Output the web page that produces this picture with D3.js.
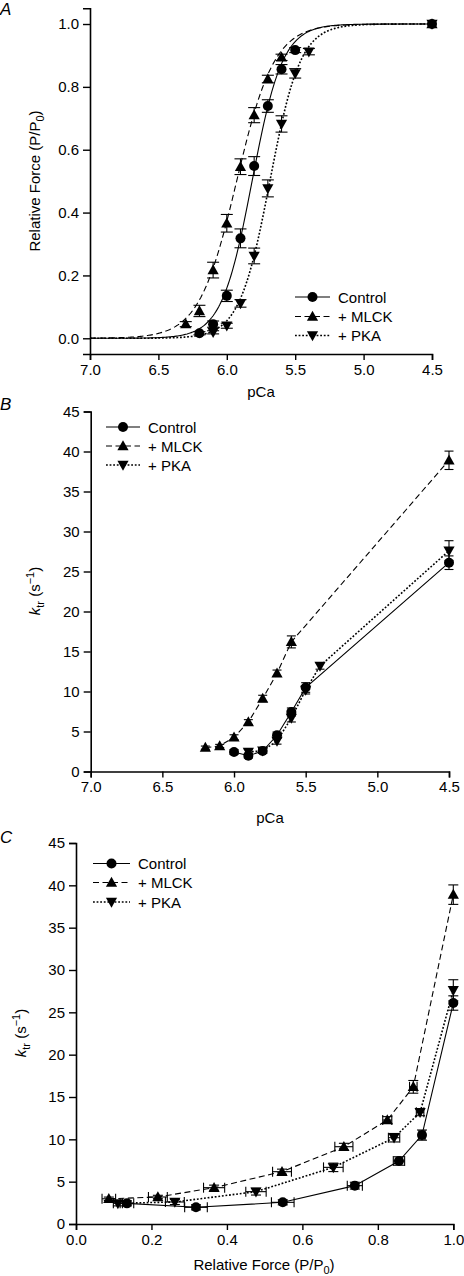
<!DOCTYPE html>
<html><head><meta charset="utf-8">
<script src="https://cdn.jsdelivr.net/npm/d3@7"></script>
<style>
html,body{margin:0;padding:0;background:#fff;}
svg{display:block;font-family:"Liberation Sans",Arial,sans-serif;}
</style></head>
<body>
<svg id="chart" width="464" height="1276"></svg>
<script>
// ---------- DATA ----------
const seriesNames = ["Control", "+ MLCK", "+ PKA"];

// Panel A: relative force vs pCa
const pcaA_control = [6.2, 6.1, 6.0, 5.9, 5.8, 5.7, 5.6, 5.5, 4.5];
const forceA_control = [0.016, 0.045, 0.135, 0.318, 0.548, 0.739, 0.856, 0.917, 1.0];
const forceErrA_control = [0.005, 0.01, 0.018, 0.03, 0.03, 0.02, 0.015, 0.008, 0];

const pcaA_mlck = [6.3, 6.2, 6.1, 6.0, 5.9, 5.8, 5.7, 5.6, 4.5];
const forceA_mlck = [0.045, 0.087, 0.217, 0.366, 0.546, 0.71, 0.825, 0.894, 1.0];
const forceErrA_mlck = [0.008, 0.018, 0.025, 0.028, 0.025, 0.024, 0.012, 0.01, 0];

const pcaA_pka = [6.1, 6.0, 5.9, 5.8, 5.7, 5.6, 5.5, 5.4, 4.5];
const forceA_pka = [0.019, 0.04, 0.111, 0.262, 0.477, 0.682, 0.843, 0.912, 1.0];
const forceErrA_pka = [0.005, 0.008, 0.012, 0.025, 0.027, 0.026, 0.015, 0.01, 0];

// Hill fit parameters [Control, MLCK, PKA]
const fitPCa50 = [5.815, 5.928, 5.685];
const fitNH = [3.9, 3.15, 3.9];

// Panel B: ktr vs pCa
const pcaB_control = [6.0, 5.9, 5.8, 5.7, 5.6, 5.5, 4.5];
const ktrB_control = [2.44, 1.97, 2.56, 4.53, 7.44, 10.5, 26.1];
const ktrErrB_control = [0.3, 0.3, 0.3, 0.4, 0.5, 0.6, 0.85];

const pcaB_mlck = [6.2, 6.1, 6.0, 5.9, 5.8, 5.7, 5.6, 4.5];
const ktrB_mlck = [2.98, 3.19, 4.29, 6.18, 9.13, 12.28, 16.2, 38.9];
const ktrErrB_mlck = [0.2, 0.2, 0.3, 0.3, 0.4, 0.4, 0.75, 1.15];

const pcaB_pka = [5.9, 5.8, 5.7, 5.6, 5.5, 5.4, 4.5];
const ktrB_pka = [2.44, 2.6, 3.82, 6.69, 10.19, 13.19, 27.6];
const ktrErrB_pka = [0.3, 0.3, 0.4, 0.5, 0.5, 0.4, 1.25];

// Tick values
const pcaTicks = [7.0, 6.5, 6.0, 5.5, 5.0, 4.5];
const forceTicks = [0.0, 0.2, 0.4, 0.6, 0.8, 1.0];
const ktrTicks = [0, 5, 10, 15, 20, 25, 30, 35, 40, 45];
const relForceTicks = [0.0, 0.2, 0.4, 0.6, 0.8, 1.0];

// ---------- BUILD ----------
const svg = d3.select("#chart");
const FS = 15;
const markers = ["circle", "up", "down"];
const dashes = [null, "6,3.5", "1.8,1.8"];
const lineW = [1.1, 1.1, 1.6];

function zip(px, py, e) { return px.map((p, i) => ({x: p, y: py[i], e: e ? e[i] : 0})); }
const A = [zip(pcaA_control, forceA_control, forceErrA_control),
           zip(pcaA_mlck, forceA_mlck, forceErrA_mlck),
           zip(pcaA_pka, forceA_pka, forceErrA_pka)];
const B = [zip(pcaB_control, ktrB_control, ktrErrB_control),
           zip(pcaB_mlck, ktrB_mlck, ktrErrB_mlck),
           zip(pcaB_pka, ktrB_pka, ktrErrB_pka)];
// Panel C: join force (A) and ktr (B) by pCa
const C = B.map((ser, s) => ser.map(d => {
  const a = A[s].find(q => Math.abs(q.x - d.x) < 1e-6);
  return {x: a.y, xe: a.e, y: d.y, ye: d.e};
}));

function drawMarker(g, type, x, y) {
  if (type === "circle") {
    g.append("circle").attr("cx", x).attr("cy", y).attr("r", 5).attr("fill", "#000");
  } else {
    const s = type === "up" ? 1 : -1;
    g.append("path").attr("d", `M${x},${y - 5.8 * s} L${x + 5.6},${y + 4.2 * s} L${x - 5.6},${y + 4.2 * s} Z`).attr("fill", "#000");
  }
}

function axes(g, xs, ys, xTicks, yTicks, xFmt, yFmt) {
  const xa = g.append("g").attr("transform", `translate(0,${ys.range()[0]})`)
    .call(d3.axisBottom(xs).tickValues(xTicks).tickFormat(xFmt).tickSizeOuter(0).tickSize(6).tickPadding(4));
  const ya = g.append("g").attr("transform", `translate(${xs.range()[0]},0)`)
    .call(d3.axisLeft(ys).tickValues(yTicks).tickFormat(yFmt).tickSizeOuter(0).tickSize(7).tickPadding(4));
  [xa, ya].forEach(a => {
    a.selectAll("path.domain").attr("stroke", "#000").attr("stroke-width", 1.6);
    a.selectAll(".tick line").attr("stroke", "#000").attr("stroke-width", 1.4);
    a.selectAll("text").attr("font-size", FS).attr("fill", "#000").attr("font-family", "Liberation Sans, Arial, sans-serif");
  });
  return {xa, ya};
}

function legend(g, x0, rows, len) {
  seriesNames.forEach((n, i) => {
    const y = rows[i];
    g.append("line").attr("x1", x0).attr("x2", x0 + len).attr("y1", y).attr("y2", y)
      .attr("stroke", "#000").attr("stroke-width", lineW[i]).attr("stroke-dasharray", dashes[i]);
    drawMarker(g, markers[i], x0 + len / 2, y);
    g.append("text").attr("x", x0 + len + 8).attr("y", y + 5.5).attr("font-size", FS).text(n);
  });
}

function panelLetter(t, x, y) {
  svg.append("text").attr("x", x).attr("y", y).attr("font-size", 17).attr("font-style", "italic").text(t);
}

function ktrLabel(x, y) {
  const t = svg.append("text").attr("transform", `translate(${x},${y}) rotate(-90)`)
    .attr("text-anchor", "middle").attr("font-size", FS);
  t.append("tspan").attr("font-style", "italic").text("k");
  t.append("tspan").attr("font-size", 11).attr("dy", 4).text("tr");
  t.append("tspan").attr("dy", -4).text(" (s");
  t.append("tspan").attr("font-size", 11).attr("dy", -6).text("\u22121");
  t.append("tspan").attr("dy", 6).text(")");
}

function forceLabelText(t) {
  t.append("tspan").text("Relative Force (P/P");
  t.append("tspan").attr("font-size", 11).attr("dy", 4).text("0");
  t.append("tspan").attr("dy", -4).text(")");
}

// ---------- PANEL A ----------
{
  const g = svg.append("g");
  const xs = d3.scaleLinear().domain([7.0, 4.5]).range([90, 432]);
  const ys = d3.scaleLinear().domain([-0.05, 1.05]).range([354, 8.3]);
  axes(g, xs, ys, pcaTicks, forceTicks, d3.format(".1f"), d3.format(".1f"));
  const grid = d3.range(7.0, 4.4999, -0.01);
  [0, 1, 2].forEach(s => {
    const pts = grid.map(p => [p, 1 / (1 + Math.pow(10, fitNH[s] * (p - fitPCa50[s])))]);
    g.append("path").attr("d", d3.line().x(d => xs(d[0])).y(d => ys(d[1]))(pts))
      .attr("fill", "none").attr("stroke", "#000").attr("stroke-width", lineW[s]).attr("stroke-dasharray", dashes[s]);
  });
  [0, 1, 2].forEach(s => {
    A[s].forEach(d => {
      if (d.e > 0) {
        const x = xs(d.x), y1 = ys(d.y - d.e), y2 = ys(d.y + d.e);
        g.append("line").attr("x1", x).attr("x2", x).attr("y1", y1).attr("y2", y2).attr("stroke", "#000").attr("stroke-width", 1.1);
        [y1, y2].forEach(yy => g.append("line").attr("x1", x - 6).attr("x2", x + 6).attr("y1", yy).attr("y2", yy).attr("stroke", "#000").attr("stroke-width", 1.1));
      }
    });
  });
  [2, 1, 0].forEach(s => A[s].forEach(d => drawMarker(g, markers[s], xs(d.x), ys(d.y))));
  legend(g, 295, [297, 316.5, 335.5], 35);
  svg.append("text").attr("x", 261).attr("y", 397).attr("text-anchor", "middle").attr("font-size", FS).text("pCa");
  const yl = svg.append("text").attr("transform", "translate(40,181) rotate(-90)").attr("text-anchor", "middle").attr("font-size", FS);
  forceLabelText(yl);
  panelLetter("A", 0, 15);
}

// ---------- PANEL B ----------
{
  const g = svg.append("g");
  const xs = d3.scaleLinear().domain([7.0, 4.5]).range([90.7, 449]);
  const ys = d3.scaleLinear().domain([0, 45]).range([771.5, 411.5]);
  axes(g, xs, ys, pcaTicks, ktrTicks, d3.format(".1f"), d3.format("d"));
  [0, 1, 2].forEach(s => {
    g.append("path").attr("d", d3.line().x(d => xs(d.x)).y(d => ys(d.y))(B[s]))
      .attr("fill", "none").attr("stroke", "#000").attr("stroke-width", lineW[s]).attr("stroke-dasharray", dashes[s]);
  });
  [0, 1, 2].forEach(s => {
    B[s].forEach(d => {
      const x = xs(d.x), y1 = ys(d.y - d.e), y2 = ys(d.y + d.e);
      g.append("line").attr("x1", x).attr("x2", x).attr("y1", y1).attr("y2", y2).attr("stroke", "#000").attr("stroke-width", 1.1);
      [y1, y2].forEach(yy => g.append("line").attr("x1", x - 4.5).attr("x2", x + 4.5).attr("y1", yy).attr("y2", yy).attr("stroke", "#000").attr("stroke-width", 1.1));
    });
  });
  [2, 1, 0].forEach(s => B[s].forEach(d => drawMarker(g, markers[s], xs(d.x), ys(d.y))));
  legend(g, 106, [427, 446, 465], 34);
  svg.append("text").attr("x", 270).attr("y", 823).attr("text-anchor", "middle").attr("font-size", FS).text("pCa");
  ktrLabel(40, 591);
  panelLetter("B", 0, 410);
}

// ---------- PANEL C ----------
{
  const g = svg.append("g");
  const xs = d3.scaleLinear().domain([0, 1]).range([76, 453.3]);
  const ys = d3.scaleLinear().domain([0, 45]).range([1224, 843]);
  axes(g, xs, ys, relForceTicks, ktrTicks, d3.format(".1f"), d3.format("d"));
  [0, 1, 2].forEach(s => {
    g.append("path").attr("d", d3.line().x(d => xs(d.x)).y(d => ys(d.y))(C[s]))
      .attr("fill", "none").attr("stroke", "#000").attr("stroke-width", lineW[s]).attr("stroke-dasharray", dashes[s]);
  });
  [0, 1, 2].forEach(s => {
    C[s].forEach(d => {
      const x = xs(d.x), y = ys(d.y);
      const y1 = ys(d.y - d.ye), y2 = ys(d.y + d.ye);
      g.append("line").attr("x1", x).attr("x2", x).attr("y1", y1).attr("y2", y2).attr("stroke", "#000").attr("stroke-width", 1.1);
      [y1, y2].forEach(yy => g.append("line").attr("x1", x - 5).attr("x2", x + 5).attr("y1", yy).attr("y2", yy).attr("stroke", "#000").attr("stroke-width", 1.1));
      if (d.xe > 0) {
        const x1 = xs(d.x - d.xe), x2 = xs(d.x + d.xe);
        g.append("line").attr("x1", x1).attr("x2", x2).attr("y1", y).attr("y2", y).attr("stroke", "#000").attr("stroke-width", 1.1);
        [x1, x2].forEach(xx => g.append("line").attr("x1", xx).attr("x2", xx).attr("y1", y - 5).attr("y2", y + 5).attr("stroke", "#000").attr("stroke-width", 1.1));
      }
    });
  });
  [2, 1, 0].forEach(s => C[s].forEach(d => drawMarker(g, markers[s], xs(d.x), ys(d.y))));
  legend(g, 93, [863.5, 882.5, 902], 37);
  const xl = svg.append("text").attr("x", 264).attr("y", 1270).attr("text-anchor", "middle").attr("font-size", FS);
  forceLabelText(xl);
  ktrLabel(26, 1033);
  panelLetter("C", 0, 843);
}
</script>
</body></html>
